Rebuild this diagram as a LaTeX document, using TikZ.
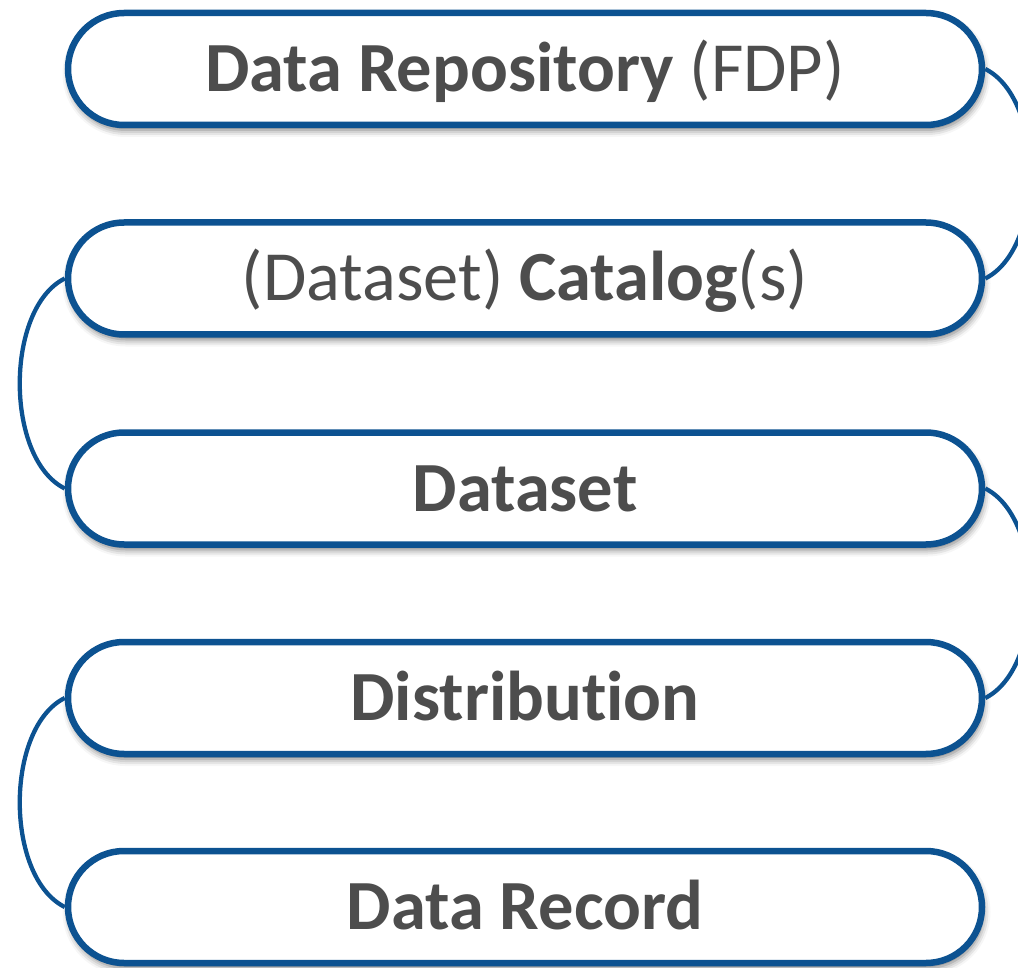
\documentclass[tikz,border=0pt]{standalone}
\usepackage{fontspec}
\setmainfont{Carlito}[Ligatures=NoCommon]
\usetikzlibrary{shadows.blur}
\definecolor{boxblue}{RGB}{12,82,145}
\definecolor{txtgray}{RGB}{77,77,77}
\tikzset{
  layerbox/.style={draw=boxblue, line width=6.5pt, fill=white, rectangle,
    rounded corners=56pt, minimum width=914pt, minimum height=112pt,
    inner sep=0pt, text=txtgray, font=\fontsize{70.5}{80}\selectfont,
    text height=45pt, text depth=0pt,
    blur shadow={shadow xshift=1.5pt, shadow yshift=-5pt, shadow blur radius=7pt, shadow opacity=55}},
  link/.style={draw=boxblue, line width=4.3pt}
}
\begin{document}
\begin{tikzpicture}[x=1pt,y=-1pt]
\useasboundingbox (0,0) rectangle (1018,968);
\clip (0,0) rectangle (1018,968);
\node[layerbox] (repo) at (525,69) {\textbf{Data Repository} (FDP)};
\node[layerbox] (cat) at (525,278.5) {(Dataset) \textbf{Catalog}(s)};
\node[layerbox] (ds) at (525,488.5) {\textbf{Dataset}};
\node[layerbox] (dist) at (525,698) {\textbf{Distribution}};
\node[layerbox] (rec) at (525,907) {\textbf{Data Record}};
\draw[link] (repo.east) .. controls +(60,30) and +(60,-30) .. (cat.east);
\draw[link] (cat.west) .. controls +(-60,30) and +(-60,-30) .. (ds.west);
\draw[link] (ds.east) .. controls +(60,30) and +(60,-30) .. (dist.east);
\draw[link] (dist.west) .. controls +(-60,30) and +(-60,-30) .. (rec.west);
\end{tikzpicture}
\end{document}
